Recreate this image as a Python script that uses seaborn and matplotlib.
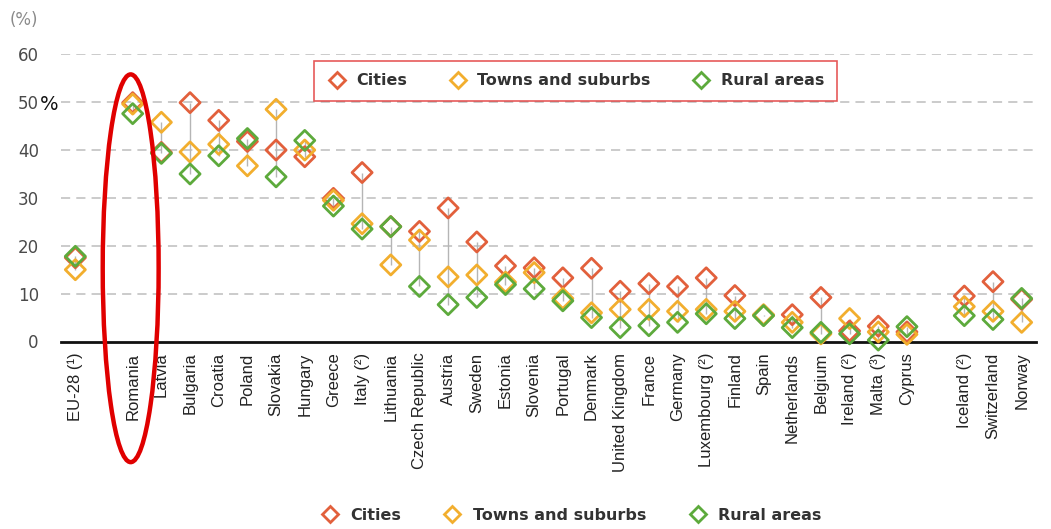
import numpy as np
import pandas as pd
import matplotlib
matplotlib.use("Agg")
import matplotlib.pyplot as plt
from matplotlib.lines import Line2D
from matplotlib.patches import Ellipse
import seaborn as sns

categories = ["EU-28 (¹)", "", "Romania", "Latvia", "Bulgaria", "Croatia", "Poland",
              "Slovakia", "Hungary", "Greece", "Italy (²)", "Lithuania", "Czech Republic",
              "Austria", "Sweden", "Estonia", "Slovenia", "Portugal", "Denmark",
              "United Kingdom", "France", "Germany", "Luxembourg (²)", "Finland", "Spain",
              "Netherlands", "Belgium", "Ireland (²)", "Malta (³)", "Cyprus", "",
              "Iceland (²)", "Switzerland", "Norway"]
nan = np.nan
cities = [17.5, nan, 49.9, 39.5, 49.9, 46.2, 41.8, 40.0, 38.6, 29.9, 35.3, 24.0, 23.0,
          27.9, 20.8, 15.8, 15.4, 13.3, 15.3, 10.5, 12.1, 11.5, 13.3, 9.6, 5.5,
          5.6, 9.2, 2.2, 3.2, 2.0, nan, 9.5, 12.5, 8.8]
towns = [15.0, nan, 49.6, 45.8, 39.6, 41.2, 36.7, 48.5, 40.0, 29.5, 24.6, 16.0, 21.2,
         13.5, 13.9, 12.4, 14.4, 9.0, 6.0, 6.7, 6.7, 6.3, 6.7, 6.3, 5.6,
         4.0, 1.6, 4.8, 2.0, 1.5, nan, 7.3, 6.3, 4.0]
rural = [17.8, nan, 47.6, 39.3, 35.0, 38.8, 42.4, 34.4, 42.0, 28.3, 23.5, 24.0, 11.5,
         7.7, 9.2, 11.9, 11.0, 8.5, 5.0, 2.9, 3.3, 4.0, 5.8, 4.8, 5.4,
         2.9, 1.9, 1.6, 0.3, 3.1, nan, 5.4, 4.6, 9.0]
series_names = ["Cities", "Towns and suburbs", "Rural areas"]
series_colors = ["#E2603C", "#F2AE2E", "#5DAA3C"]
yticks = [0, 10, 20, 30, 40, 50, 60]

df = pd.DataFrame({"cat": categories, "pos": np.arange(len(categories)),
                   "Cities": cities, "Towns and suburbs": towns, "Rural areas": rural})

sns.set_style("white")
plt.rcParams["font.family"] = ["DejaVu Sans"]

fig = plt.figure(figsize=(10.51, 5.29), dpi=100)
ax = fig.add_axes([61 / 1051, 1 - 341.5 / 529, (1036 - 61) / 1051, (341.5 - 54.3) / 529])

# connecting lines
lo = df[series_names].min(axis=1)
hi = df[series_names].max(axis=1)
ax.vlines(df["pos"], lo, hi, color="#B5B5B5", lw=1.0, zorder=2)

for name, col in zip(series_names, series_colors):
    sns.scatterplot(data=df, x="pos", y=name, ax=ax, marker="D", s=105,
                    color=col, facecolor="none", edgecolor=col, linewidth=2.0,
                    zorder=3, clip_on=False, legend=False)

ax.set_xlim(-0.5, len(categories) - 0.5)
ax.set_ylim(0, 60)
ax.set_xlabel("")
ax.set_ylabel("")

# grid
for yv in yticks[1:]:
    ax.axhline(yv, color="#BDBDBD", lw=1.1, ls=(0, (6, 4)), zorder=1)

for s in ["top", "right", "left"]:
    ax.spines[s].set_visible(False)
ax.spines["bottom"].set_color("#111111")
ax.spines["bottom"].set_linewidth(2.0)

ax.set_yticks(yticks)
ax.set_yticklabels([str(v) for v in yticks], color="#4a4a4a", fontsize=12)
ax.tick_params(axis="y", length=0, pad=16)

ax.set_xticks(df["pos"])
ax.set_xticklabels(categories, rotation=90, fontsize=12,
                   family=["Liberation Sans", "DejaVu Sans"], color="#222222")
ax.set_xticks(np.arange(-0.5, len(categories), 1.0), minor=True)
ax.tick_params(axis="x", which="major", length=0, pad=8)
ax.tick_params(axis="x", which="minor", length=8, width=2, color="#111111", direction="out")

fig.text(10 / 1051, 1 - 20 / 529, "(%)", color="#8a8a8a", fontsize=12, va="center", ha="left")
fig.text(40 / 1051, 1 - 104 / 529, "%", color="#111111", fontsize=14, va="center", ha="left")

# red ellipse
ell = Ellipse((1.93, 15.3), width=1.95, height=81, fill=False, edgecolor="#E00000",
              lw=3.2, clip_on=False, zorder=5)
ax.add_patch(ell)

handles = [Line2D([], [], ls="none", marker="D", markersize=8, markerfacecolor="none",
                  markeredgecolor=c, markeredgewidth=2.0) for c in series_colors]
leg = ax.legend(handles, series_names, ncol=3, loc="center",
                bbox_to_anchor=((575.5 - 61) / 975, (341.5 - 81) / 287.2),
                frameon=True, fancybox=False, edgecolor="#E03030",
                prop={"weight": "bold", "size": 11.5}, columnspacing=2.6,
                handletextpad=0.6, borderpad=0.8, handlelength=1.2)
leg.get_frame().set_linewidth(1.2)
for t in leg.get_texts():
    t.set_color("#333333")

fleg = fig.legend(handles, series_names, ncol=3, loc="center",
                  bbox_to_anchor=(571 / 1051, 1 - 515 / 529), frameon=False,
                  prop={"weight": "bold", "size": 11.5}, columnspacing=2.6,
                  handletextpad=0.7, handlelength=1.2)
for t in fleg.get_texts():
    t.set_color("#333333")

fig.savefig("out.png", dpi=100)
